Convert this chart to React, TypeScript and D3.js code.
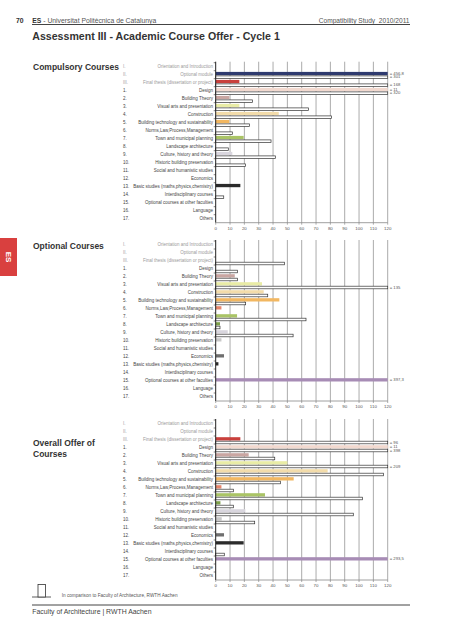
import React from 'react';
import * as d3 from 'd3';

const categories = [
  'Orientation and Introduction',
  'Optional module',
  'Final thesis (dissertation or project)',
  'Design',
  'Building Theory',
  'Visual arts and presentation',
  'Construction',
  'Building technology and sustainability',
  'Norms,Law,Process,Management',
  'Town and municipal planning',
  'Landscape architecture',
  'Culture, history and theory',
  'Historic building preservation',
  'Social and humanistic studies',
  'Economics',
  'Basic studies (maths,physics,chemistry)',
  'Interdisciplinary courses',
  'Optional courses at other faculties',
  'Language',
  'Others',
];

const rowNumbers = [
  'I.', 'II.', 'III.', '1.', '2.', '3.', '4.', '5.', '6.', '7.', '8.', '9.', '10.',
  '11.', '12.', '13.', '14.', '15.', '16.', '17.',
];

const mutedRows = [true, true, true];

const categoryColors = [
  '#9aa8c8', '#2e3a6e', '#c9403c', '#f2d9cf', '#c9a6a2', '#e9eca6', '#f3dcaa',
  '#f2b761', '#e7866c', '#aac466', '#7ea14a', '#d9d6de', '#c9c9c9', '#bbbbbb',
  '#6f6f6f', '#2b2b2b', '#999999', '#a78cb5', '#888888', '#555555',
];

const tickValues = [0, 10, 20, 30, 40, 50, 60, 70, 80, 90, 100, 110, 120];

// Compulsory courses
const compulsoryUPC = [0, 456.8, 16.5, 121, 9.5, 16.5, 44, 9.5, 0, 19.5, 0, 11.6, 0, 0, 0, 17.2, 0, 0, 0, 0];
const compulsoryRWTH = [0, 301, 168, 320, 25.6, 64.7, 80.7, 23.5, 11.6, 38.6, 8.8, 41.6, 20.7, 0, 0, 0, 5.6, 0, 0, 0];
const compulsoryUPCLabels = ['', '= 456,8', '', '= 11', '', '', '', '', '', '', '', '', '', '', '', '', '', '', '', ''];
const compulsoryRWTHLabels = ['', '= 301', '= 168', '= 320', '', '', '', '', '', '', '', '', '', '', '', '', '', '', '', ''];

// Optional courses
const optionalUPC = [0, 0, 0, 0, 13.3, 32.3, 33.5, 44.4, 4, 14.9, 3, 8.4, 4, 0, 5.8, 1.9, 0, 397.3, 0, 0];
const optionalRWTH = [0, 0, 47.9, 15.1, 15.1, 135, 36.3, 20.9, 0, 63, 3, 54, 0, 0, 0, 0, 0, 0, 0, 0];
const optionalUPCLabels = ['', '', '', '', '', '', '', '', '', '', '', '', '', '', '', '', '', '= 397,3', '', ''];
const optionalRWTHLabels = ['', '', '', '', '', '= 135', '', '', '', '', '', '', '', '', '', '', '', '', '', ''];

// Overall offer
const overallUPC = [0, 0, 17.2, 121, 23, 50, 78.1, 54.4, 4, 34.4, 3.3, 20.7, 4.2, 0, 5.8, 19.5, 0, 293.5, 0, 0];
const overallRWTH = [0, 0, 215.9, 398, 41.2, 209, 117, 45.3, 12.3, 102.3, 12.3, 96, 27.2, 0, 0, 0, 6, 0, 0, 0];
const overallUPCLabels = ['', '', '', '= 11', '', '', '', '', '', '', '', '', '', '', '', '', '', '= 293,5', '', ''];
const overallRWTHLabels = ['', '', '= 96', '= 398', '', '= 209', '', '', '', '', '', '', '', '', '', '', '', '', '', ''];

const FONT = '"Liberation Sans", Arial, Helvetica, sans-serif';

const x = d3.scaleLinear().domain([0, 120]).range([215.7, 387.7]);

type ChartProps = {
  top: number;
  upc: number[];
  rwth: number[];
  upcLabels: string[];
  rwthLabels: string[];
};

function Chart({ top, upc, rwth, upcLabels, rwthLabels }: ChartProps) {
  const y = d3.scaleBand<string>().domain(categories).range([top, top + 160]).padding(0);
  const bottom = top + 160;
  const x0 = x(0);
  const xMax = x(120);
  const clamp = (v: number) => x(Math.min(v, 120)) - x0;
  return (
    <g>
      {tickValues.filter((t) => t > 0).map((t) => (
        <line key={'g' + t} x1={x(t)} x2={x(t)} y1={top - 1} y2={bottom} stroke="#ababab" strokeWidth={1} />
      ))}
      {categories.map((c, i) => {
        const cy = (y(c) as number) + y.bandwidth() / 2;
        const muted = !!mutedRows[i];
        return (
          <g key={c}>
            <text x={123} y={cy} fontSize={4.5} fill={muted ? '#9a9a9a' : '#444'} dominantBaseline="middle" fontFamily={FONT}>
              {rowNumbers[i]}
            </text>
            <text x={213} y={cy} fontSize={4.5} fill={muted ? '#9a9a9a' : '#444'} textAnchor="end" dominantBaseline="middle" fontFamily={FONT}>
              {c}
            </text>
            <line x1={x0 - 2} x2={x0} y1={y(c) as number} y2={y(c) as number} stroke="#333" strokeWidth={0.6} />
            {upc[i] > 0 && (
              <rect x={x0} y={cy - 2.8} width={clamp(upc[i])} height={3.3} fill={categoryColors[i]} />
            )}
            {rwth[i] > 0 && (
              <rect x={x0} y={cy + 1.2} width={clamp(rwth[i])} height={2.6} fill="#fff" stroke="#333" strokeWidth={0.7} />
            )}
            {upcLabels[i] && (
              <text x={xMax + 2} y={cy - 1.1} fontSize={4.2} fill="#555" dominantBaseline="middle" fontFamily={FONT}>
                {upcLabels[i]}
              </text>
            )}
            {rwthLabels[i] && (
              <text x={xMax + 2} y={cy + 2.6} fontSize={4.2} fill="#555" dominantBaseline="middle" fontFamily={FONT}>
                {rwthLabels[i]}
              </text>
            )}
          </g>
        );
      })}
      <line x1={x0} x2={x0} y1={top - 1} y2={bottom} stroke="#222" strokeWidth={1} />
      <line x1={x0} x2={xMax} y1={bottom} y2={bottom} stroke="#888" strokeWidth={0.8} />
      {tickValues.map((t) => (
        <g key={'t' + t}>
          <line x1={x(t)} x2={x(t)} y1={bottom} y2={bottom + 2} stroke="#777" strokeWidth={0.6} />
          <text x={x(t)} y={bottom + 6} fontSize={4.4} fill="#555" textAnchor="middle" dominantBaseline="middle" fontFamily={FONT}>
            {t}
          </text>
        </g>
      ))}
    </g>
  );
}

export default function App() {
  return (
    <svg
      width={453}
      height={640}
      viewBox="0 0 453 640"
      style={{ position: 'absolute', left: 0, top: 0, background: '#fff' }}
      fontFamily={FONT}
    >
      <rect x={0} y={0} width={453} height={640} fill="#fff" />
      {/* header */}
      <text x={16} y={22.8} fontSize={6.8} fontWeight="bold" fill="#333">70</text>
      <text x={32.3} y={22.8} fontSize={6.8} fill="#555">
        <tspan fontWeight="bold" fill="#333">ES</tspan>
        <tspan> - Universitat Politècnica de Catalunya</tspan>
      </text>
      <text x={409.5} y={22.8} fontSize={6.6} fill="#555" textAnchor="end" xmlSpace="preserve">
        Compatibility Study  2010/2011
      </text>
      <line x1={32} x2={410} y1={24.5} y2={24.5} stroke="#444" strokeWidth={1} />
      <text x={32.3} y={39.5} fontSize={10.6} fontWeight="bold" fill="#333">
        Assessment III - Academic Course Offer - Cycle 1
      </text>

      {/* side tab */}
      <rect x={0} y={238} width={17} height={38} fill="#d9403f" />
      <text x={8.5} y={257} fontSize={8} fontWeight="bold" fill="#fff" textAnchor="middle" dominantBaseline="middle" transform="rotate(90 8.5 257)">
        ES
      </text>

      {/* section titles */}
      <text x={33} y={70.3} fontSize={8.5} fontWeight="bold" fill="#333">Compulsory Courses</text>
      <text x={33} y={248.5} fontSize={8.5} fontWeight="bold" fill="#333">Optional Courses</text>
      <text x={33} y={446} fontSize={8.5} fontWeight="bold" fill="#333">Overall Offer of</text>
      <text x={33} y={457} fontSize={8.5} fontWeight="bold" fill="#333">Courses</text>

      <Chart top={62.7} upc={compulsoryUPC} rwth={compulsoryRWTH} upcLabels={compulsoryUPCLabels} rwthLabels={compulsoryRWTHLabels} />
      <Chart top={241} upc={optionalUPC} rwth={optionalRWTH} upcLabels={optionalUPCLabels} rwthLabels={optionalRWTHLabels} />
      <Chart top={420} upc={overallUPC} rwth={overallRWTH} upcLabels={overallUPCLabels} rwthLabels={overallRWTHLabels} />

      {/* legend */}
      <line x1={32} x2={51} y1={597} y2={597} stroke="#333" strokeWidth={0.8} />
      <rect x={38} y={584.5} width={7.5} height={12.5} fill="#fff" stroke="#333" strokeWidth={0.8} />
      <text x={61.7} y={595.5} fontSize={4.7} fill="#555" dominantBaseline="middle">
        In comparison to Faculty of Architecture, RWTH Aachen
      </text>

      {/* footer */}
      <line x1={32} x2={410} y1={605} y2={605} stroke="#444" strokeWidth={1} />
      <text x={32.3} y={614} fontSize={6.9} fill="#444">Faculty of Architecture | RWTH Aachen</text>
    </svg>
  );
}
